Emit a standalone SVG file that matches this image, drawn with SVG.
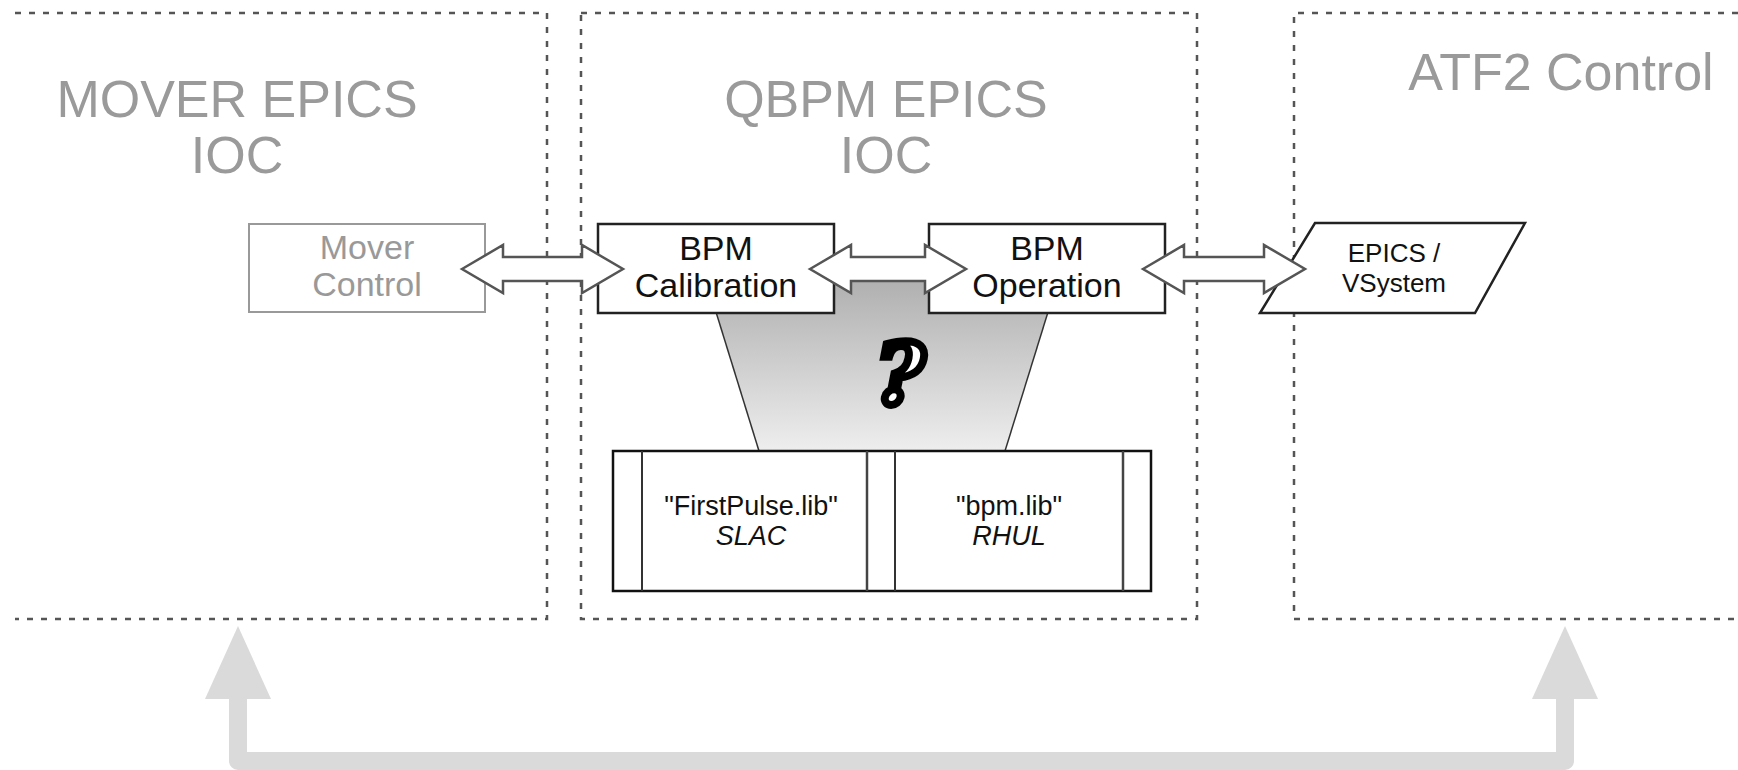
<svg xmlns="http://www.w3.org/2000/svg" width="1738" height="770" viewBox="0 0 1738 770">
<style>
.frame{fill:none;stroke:#555;stroke-width:2.5;stroke-dasharray:6 8}
.title{font-family:"Liberation Sans",Arial,sans-serif;font-size:52px;fill:#9a9a9a;text-anchor:middle}
.lbl{font-family:"Liberation Sans",Arial,sans-serif;font-size:34px;fill:#111;text-anchor:middle}
.small{font-family:"Liberation Sans",Arial,sans-serif;font-size:26px;fill:#111;text-anchor:middle}
.lib{font-family:"Liberation Sans",Arial,sans-serif;font-size:27px;fill:#111;text-anchor:middle}
.box{fill:#fff;stroke:#222;stroke-width:2.5}
.dbl{fill:#fff;stroke:#555;stroke-width:2.5;stroke-linejoin:miter}
.big{fill:#dadada}
</style>
<defs>
<linearGradient id="g" x1="0" y1="0" x2="0" y2="1">
<stop offset="0" stop-color="#acacac"/>
<stop offset="1" stop-color="#eeeeee"/>
</linearGradient>
</defs>

<g id="frames">
<path class="frame" d="M15 13 H547 V619 H15"/>
<rect class="frame" x="581" y="13" width="616" height="606"/>
<path class="frame" d="M1738 13 H1294 V619 H1738"/>
</g>

<g id="titles">
<text class="title" x="237" y="117">MOVER EPICS</text>
<text class="title" x="237" y="173">IOC</text>
<text class="title" x="886" y="117">QBPM EPICS</text>
<text class="title" x="886" y="173">IOC</text>
<text class="title" x="1561" y="90">ATF2 Control</text>
</g>

<g id="funnel">
<polygon points="703,270 1061,270 1005,451 759,451" fill="url(#g)"/>
<line x1="703" y1="270" x2="759" y2="451" stroke="#333" stroke-width="1.5"/>
<line x1="1061" y1="270" x2="1005" y2="451" stroke="#333" stroke-width="1.5"/>
<text x="900" y="404" font-family="DejaVu Serif,serif" font-weight="bold" font-style="italic" font-size="84" text-anchor="middle" fill="#fff" stroke="#000" stroke-width="8">?</text>
</g>

<g id="mover-control">
<rect x="249" y="224" width="236" height="88" fill="#fff" stroke="#999" stroke-width="2"/>
<text class="lbl" x="367" y="259" style="fill:#999">Mover</text>
<text class="lbl" x="367" y="296" style="fill:#999">Control</text>
</g>

<g id="bpm-calibration">
<rect class="box" x="598" y="224" width="236" height="89"/>
<text class="lbl" x="716" y="260">BPM</text>
<text class="lbl" x="716" y="297">Calibration</text>
</g>

<g id="bpm-operation">
<rect class="box" x="929" y="224" width="236" height="89"/>
<text class="lbl" x="1047" y="260">BPM</text>
<text class="lbl" x="1047" y="297">Operation</text>
</g>

<g id="epics-vsystem">
<polygon class="box" points="1315,223 1525,223 1475,313 1260,313"/>
<text class="small" x="1394" y="262">EPICS /</text>
<text class="small" x="1394" y="292">VSystem</text>
</g>

<g id="libraries">
<rect x="613" y="451" width="538" height="140" fill="#fff" stroke="#111" stroke-width="2.5"/>
<line x1="642" y1="451" x2="642" y2="591" stroke="#333" stroke-width="2"/>
<line x1="867" y1="451" x2="867" y2="591" stroke="#444" stroke-width="2.5"/>
<line x1="895" y1="451" x2="895" y2="591" stroke="#333" stroke-width="2"/>
<line x1="1123" y1="451" x2="1123" y2="591" stroke="#444" stroke-width="2.5"/>
<text class="lib" x="751" y="515">"FirstPulse.lib"</text>
<text class="lib" x="751" y="545" font-style="italic">SLAC</text>
<text class="lib" x="1009" y="515">"bpm.lib"</text>
<text class="lib" x="1009" y="545" font-style="italic">RHUL</text>
</g>

<g id="connectors">
<path class="dbl" d="M462 269 L503 245 L503 257 L582 257 L582 245 L623 269 L582 293 L582 281 L503 281 L503 293 Z"/>
<path class="dbl" d="M810 269 L851 245 L851 257 L925 257 L925 245 L966 269 L925 293 L925 281 L851 281 L851 293 Z"/>
<path class="dbl" d="M1143 269 L1184 245 L1184 257 L1264 257 L1264 245 L1305 269 L1264 293 L1264 281 L1184 281 L1184 293 Z"/>
<path d="M238 698 V761 H1565 V698" fill="none" stroke="#dadada" stroke-width="18" stroke-linejoin="round"/>
<polygon class="big" points="205,699 238,626 271,699"/>
<polygon class="big" points="1532,699 1565,626 1598,699"/>
</g>
</svg>
